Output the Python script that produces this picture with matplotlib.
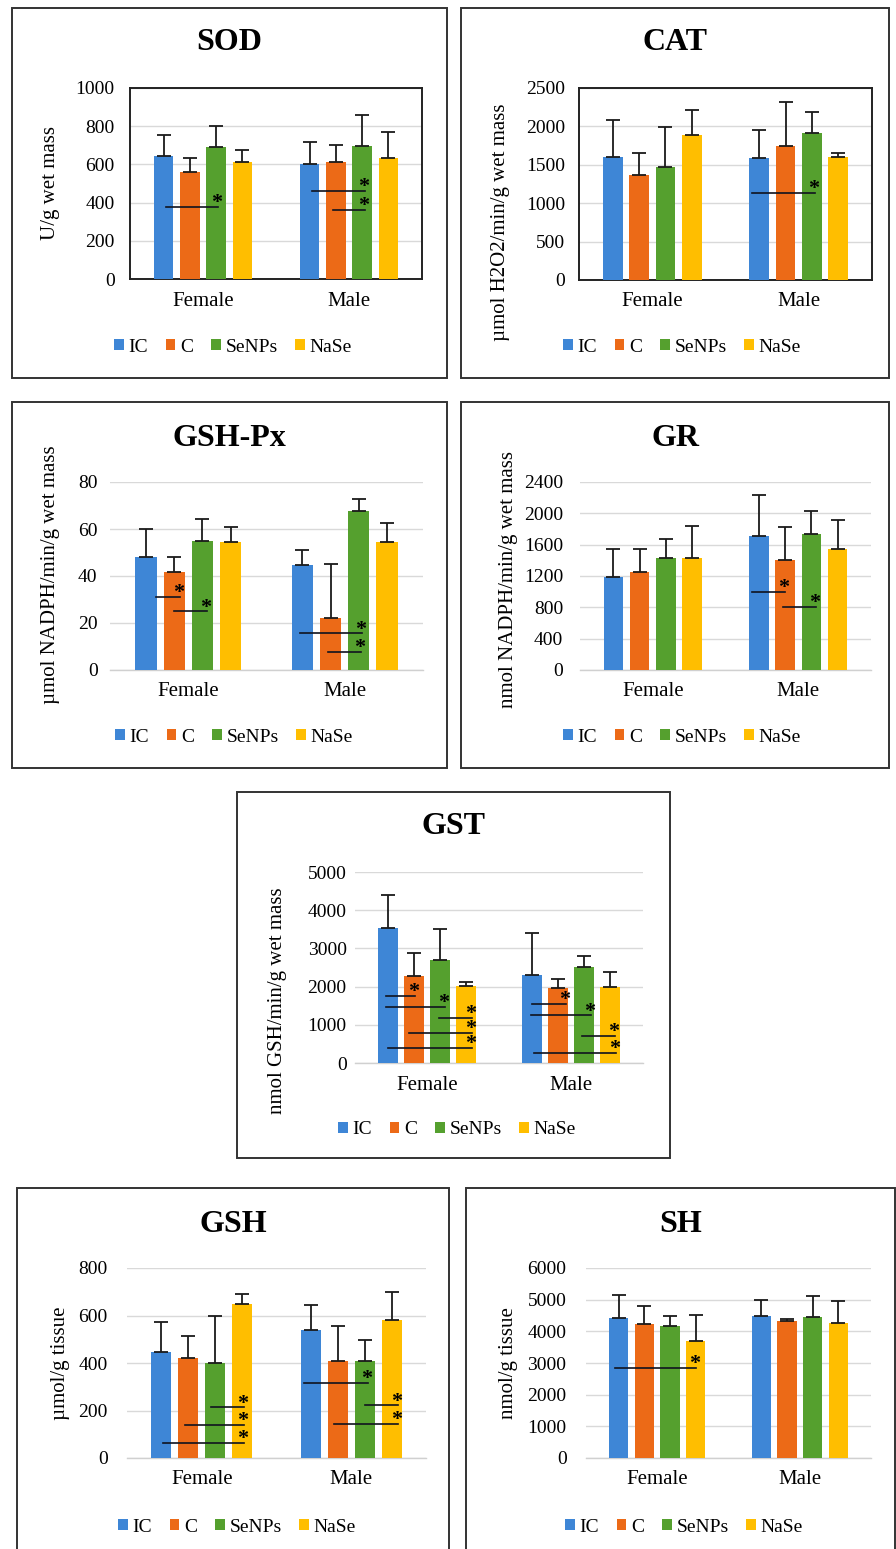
import numpy as np
import matplotlib
matplotlib.use("Agg")
import matplotlib.pyplot as plt
from matplotlib.patches import Rectangle, Patch

plt.rcParams['font.family'] = ['Liberation Serif', 'DejaVu Serif']

groups = ["IC", "C", "SeNPs", "NaSe"]
colors = ["#3E86D6", "#EC6A17", "#55A02E", "#FFBE00"]
sexes = ["Female", "Male"]

# means / upper SD, order IC, C, SeNPs, NaSe
sod_female = [646, 560, 691, 611]
sod_female_err = [110, 75, 108, 66]
sod_male = [602, 614, 696, 632]
sod_male_err = [114, 88, 164, 136]

cat_female = [1606, 1366, 1475, 1885]
cat_female_err = [480, 292, 515, 323]
cat_male = [1584, 1750, 1911, 1601]
cat_male_err = [371, 562, 275, 49]

gpx_female = [48.2, 41.6, 55.1, 54.3]
gpx_female_err = [11.9, 6.3, 9.2, 6.6]
gpx_male = [44.5, 22.3, 67.5, 54.3]
gpx_male_err = [6.4, 22.6, 5.2, 8.2]

gr_female = [1185, 1249, 1432, 1432]
gr_female_err = [362, 298, 243, 405]
gr_male = [1705, 1407, 1739, 1543]
gr_male_err = [533, 422, 290, 375]

gst_female = [3534, 2277, 2696, 2016]
gst_female_err = [855, 611, 821, 104]
gst_male = [2312, 1972, 2513, 1981]
gst_male_err = [1100, 218, 288, 401]

gsh_female = [446, 421, 399, 650]
gsh_female_err = [127, 93, 200, 42]
gsh_male = [538, 410, 408, 582]
gsh_male_err = [108, 147, 90, 117]

sh_female = [4421, 4232, 4158, 3684]
sh_female_err = [737, 557, 337, 842]
sh_male = [4495, 4316, 4442, 4263]
sh_male_err = [484, 73, 684, 684]

# significance lines: (start, end, y) in category units, star at the end
sod_sig = [(-0.255, 0.106, 379), (0.746, 1.107, 462), (0.89, 1.107, 361)]
cat_sig = [(0.68, 1.11, 1134)]
gpx_sig = [(-0.206, -0.051, 31.1), (-0.09, 0.123, 24.9),
           (0.713, 1.113, 15.6), (0.894, 1.106, 7.8)]
gr_sig = [(0.681, 0.91, 997), (0.895, 1.12, 810)]
gst_sig = [(-0.287, -0.083, 1763), (-0.287, 0.125, 1466), (0.083, 0.31, 1187),
           (-0.125, 0.314, 794), (-0.273, 0.314, 401),
           (0.732, 0.963, 1553), (0.725, 1.136, 1248), (1.079, 1.303, 707),
           (0.741, 1.314, 270)]
gsh_sig = [(0.063, 0.283, 213), (-0.115, 0.283, 140), (-0.259, 0.283, 63),
           (0.687, 1.115, 316), (1.092, 1.315, 222), (0.887, 1.315, 143)]
sh_sig = [(-0.295, 0.274, 2842)]

W, H = 896, 1549
fig = plt.figure(figsize=(W / 100, H / 100), dpi=100)


def frac(x0, y0, x1, y1):
    return [x0 / W, 1 - y1 / H, (x1 - x0) / W, (y1 - y0) / H]


def panel(title, ylabel, female, female_err, male, male_err, ymax, ystep,
          sig, axbox, box, legend_xy, title_y, lab_x, lab_y, tick_pad, framed):
    fig.add_artist(Rectangle((box[0] / W, 1 - box[3] / H),
                             (box[2] - box[0]) / W, (box[3] - box[1]) / H,
                             transform=fig.transFigure, fill=False,
                             edgecolor="#333333", linewidth=1.4))
    ax = fig.add_axes(frac(*axbox))
    x = np.arange(len(sexes))
    step = 0.18
    for i, g in enumerate(groups):
        vals = [female[i], male[i]]
        errs = [female_err[i], male_err[i]]
        pos = x + (i - 1.5) * step
        ax.bar(pos, vals, width=0.135, color=colors[i], zorder=3)
        ax.errorbar(pos, vals, yerr=[np.zeros(2), errs], fmt="none",
                    ecolor="#1a1a1a", elinewidth=1.3, capsize=5,
                    capthick=1.3, zorder=4)
    for x0, x1, yy in sig:
        ax.plot([x0, x1], [yy, yy], color="#10131f", lw=1.2, zorder=5)
        ax.annotate("*", xy=(x1 - 0.01, yy), xytext=(0, -1),
                    textcoords="offset points", ha="center", va="baseline",
                    fontsize=16, fontweight="bold", zorder=6)
    ax.set_xlim(-0.5, 1.5)
    ax.set_ylim(0, ymax)
    ax.set_yticks(np.arange(0, ymax + ystep / 2, ystep))
    ax.set_xticks(x)
    ax.set_xticklabels(sexes, fontsize=15)
    ax.tick_params(axis="both", length=0, labelsize=14)
    ax.tick_params(axis="x", pad=9, labelsize=15)
    ax.tick_params(axis="y", pad=tick_pad)
    ax.yaxis.grid(True, color="#d9d9d9", lw=1.0, zorder=0)
    ax.set_axisbelow(True)
    if framed:
        for s in ax.spines.values():
            s.set_color("#222222")
            s.set_linewidth(1.4)
    else:
        for s in ["top", "left", "right"]:
            ax.spines[s].set_visible(False)
        ax.spines["bottom"].set_color("#d0d0d0")
        ax.spines["bottom"].set_linewidth(1.0)
    ax.set_ylabel(ylabel, fontsize=15)
    ax.yaxis.set_label_coords(lab_x, lab_y)
    cx = (box[0] + box[2]) / 2
    fig.text(cx / W, 1 - title_y / H, title, ha="center", va="center",
             fontsize=23, fontweight="bold")
    handles = [Patch(facecolor=c, edgecolor="none") for c in colors]
    fig.legend(handles, groups, loc="center",
               bbox_to_anchor=(legend_xy[0] / W, 1 - legend_xy[1] / H),
               ncol=4, frameon=False, fontsize=14, handlelength=0.5,
               handleheight=0.5, handletextpad=0.25, columnspacing=0.9)
    return ax


panel("SOD", "U/g wet mass", sod_female, sod_female_err, sod_male,
      sod_male_err, 1000, 200, sod_sig, (130, 88, 422, 279),
      (12, 8, 447, 378), (233, 347), 43, -0.24, 0.5, 11, True)
panel("CAT", "µmol H2O2/min/g wet mass", cat_female, cat_female_err,
      cat_male, cat_male_err, 2500, 500, cat_sig, (579, 88, 872, 280),
      (461, 8, 889, 378), (682, 347), 43, -0.235, 0.30, 10, True)
panel("GSH-Px", "µmol NADPH/min/g wet mass", gpx_female, gpx_female_err,
      gpx_male, gpx_male_err, 80, 20, gpx_sig, (110, 482, 423, 670),
      (12, 402, 447, 768), (234, 737), 438, -0.16, 0.505, 9, False)
panel("GR", "nmol NADPH/min/g wet mass", gr_female, gr_female_err,
      gr_male, gr_male_err, 2400, 400, gr_sig, (580, 482, 871, 670),
      (461, 402, 889, 768), (682, 737), 438, -0.213, 0.48, 12, False)
panel("GST", "nmol GSH/min/g wet mass", gst_female, gst_female_err,
      gst_male, gst_male_err, 5000, 1000, gst_sig, (355, 872, 643, 1063),
      (237, 792, 670, 1158), (457, 1130), 826, -0.236, 0.325, 6, False)
panel("GSH", "µmol/g tissue", gsh_female, gsh_female_err, gsh_male,
      gsh_male_err, 800, 200, gsh_sig, (127, 1268, 426, 1458),
      (17, 1188, 449, 1552), (237, 1527), 1225, -0.19, 0.5, 14, False)
panel("SH", "nmol/g tissue", sh_female, sh_female_err, sh_male,
      sh_male_err, 6000, 1000, sh_sig, (586, 1268, 871, 1458),
      (466, 1188, 895, 1552), (684, 1527), 1225, -0.239, 0.5, 14, False)

fig.savefig("out.png", dpi=100, facecolor="white")
